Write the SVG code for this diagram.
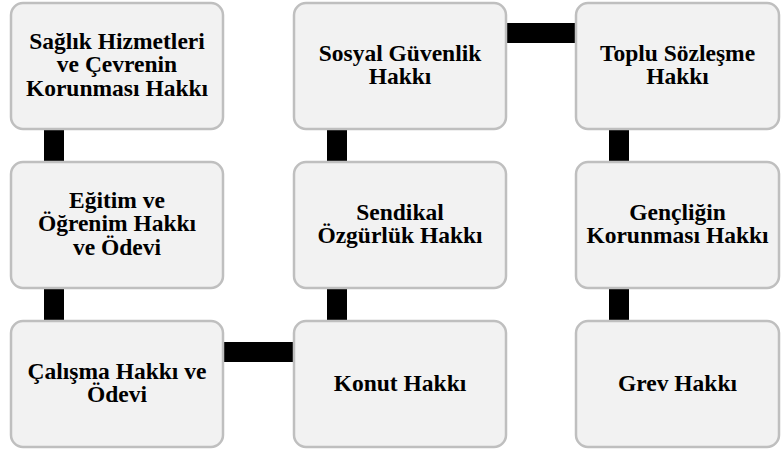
<svg xmlns="http://www.w3.org/2000/svg" width="781" height="454" viewBox="0 0 781 454">
<style>
.box{fill:#f2f2f2;stroke:#bfbfbf;stroke-width:2.5}
.c{fill:#000}
</style>
<rect width="781" height="454" fill="#ffffff"/>
<g id="connectors">
<rect class="c" x="44" y="125" width="20" height="40"/>
<rect class="c" x="44" y="284" width="20" height="40"/>
<rect class="c" x="220" y="342" width="78" height="20"/>
<rect class="c" x="327" y="284" width="20" height="40"/>
<rect class="c" x="327" y="125" width="20" height="40"/>
<rect class="c" x="503" y="23" width="76" height="20"/>
<rect class="c" x="609" y="125" width="20" height="40"/>
<rect class="c" x="609" y="284" width="20" height="40"/>
</g>
<g font-family="Liberation Serif, Times New Roman, serif" font-weight="bold" font-size="23.5" text-anchor="middle" fill="#000">
<g id="n1">
<rect class="box" x="11" y="3" width="212" height="126" rx="12"/>
<text x="117" y="49">Sağlık Hizmetleri</text>
<text x="117" y="72.3">ve Çevrenin</text>
<text x="117" y="95.6">Korunması Hakkı</text>
</g>
<g id="n2">
<rect class="box" x="11" y="162" width="212" height="126" rx="12"/>
<text x="117" y="208">Eğitim ve</text>
<text x="117" y="231.3">Öğrenim Hakkı</text>
<text x="117" y="254.6">ve Ödevi</text>
</g>
<g id="n3">
<rect class="box" x="11" y="321" width="212" height="126" rx="12"/>
<text x="117" y="378.5">Çalışma Hakkı ve</text>
<text x="117" y="401.8">Ödevi</text>
</g>
<g id="n4">
<rect class="box" x="294" y="321" width="212" height="126" rx="12"/>
<text x="400" y="390.5">Konut Hakkı</text>
</g>
<g id="n5">
<rect class="box" x="294" y="162" width="212" height="126" rx="12"/>
<text x="400" y="219.5">Sendikal</text>
<text x="400" y="242.8">Özgürlük Hakkı</text>
</g>
<g id="n6">
<rect class="box" x="294" y="3" width="212" height="126" rx="12"/>
<text x="400" y="60.5">Sosyal Güvenlik</text>
<text x="400" y="83.8">Hakkı</text>
</g>
<g id="n7">
<rect class="box" x="576" y="3" width="203" height="126" rx="12"/>
<text x="677.5" y="60.5">Toplu Sözleşme</text>
<text x="677.5" y="83.8">Hakkı</text>
</g>
<g id="n8">
<rect class="box" x="576" y="162" width="203" height="126" rx="12"/>
<text x="677.5" y="219.5">Gençliğin</text>
<text x="677.5" y="242.8">Korunması Hakkı</text>
</g>
<g id="n9">
<rect class="box" x="576" y="321" width="203" height="126" rx="12"/>
<text x="677.5" y="390.5">Grev Hakkı</text>
</g>
</g>
</svg>
